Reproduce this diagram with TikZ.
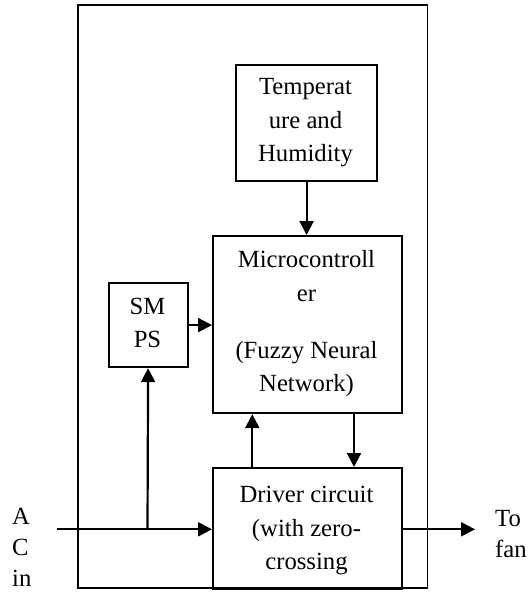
\documentclass[tikz,border=0pt]{standalone}
\usepackage{fontspec}
\setmainfont{Liberation Serif}
\usetikzlibrary{arrows.meta,calc}
\begin{document}
\begin{tikzpicture}[x=1pt,y=-1pt,
  box/.style={draw,line width=2.2pt,anchor=north west,inner sep=0pt},
  outer/.style={draw,line width=1.6pt},
  txt/.style={align=center,inner sep=0pt,anchor=base,font=\fontsize{24.7}{33.4}\selectfont},
  side/.style={align=left,inner sep=0pt,anchor=base west,font=\fontsize{24.7}{31}\selectfont},
  arr/.style={line width=2.2pt,-{Triangle[length=14pt,width=14pt]}},
  ln/.style={line width=2.2pt}]
\useasboundingbox (0,0) rectangle (532,592);
\draw[outer] (78,5) rectangle (427.5,588);
\node[box,minimum width=141pt,minimum height=116pt] (temp) at (235,64) {};
\node[box,minimum width=189pt,minimum height=177pt] (micro) at (212,235) {};
\node[box,minimum width=79pt,minimum height=84pt] (smps) at (107.5,282) {};
\node[box,minimum width=189pt,minimum height=121pt] (driver) at (212,467) {};
\node[txt] (ttemp) at (305.5,161.5) {Temperat\\ure and\\Humidity};
\node[txt] (tmicro1) at (306.5,301) {Microcontroll\\er};
\node[txt] (tmicro2) at (306.5,391.7) {(Fuzzy Neural\\Network)};
\node[txt] (tsmps) at (147.5,347.7) {SM\\PS};
\node[txt] (tdriver) at (306.5,569.5) {Driver circuit\\(with zero-\\crossing};
\node[side] (tac) at (12,586) {A\\C\\in};
\node[side] (tfan) at (495,557) {To\\fan};
\coordinate (acstart) at (57,529.3);
\coordinate (junc) at (147.5,529.3);
\coordinate (fanend) at (475,529.3);
\draw[arr] (temp.south) -- (temp.south |- micro.north);
\draw[arr] (smps.east) -- (smps.east -| micro.west);
\draw[arr] (acstart) -- (acstart -| driver.west);
\draw[arr] (junc) -- (smps.south);
\draw[arr] ($(driver.north west)+(40.3,0)$) -- ($(micro.south west)+(40.3,0)$);
\draw[arr] ($(micro.south west)+(142,0)$) -- ($(driver.north west)+(142,0)$);
\draw[arr] (driver.east |- fanend) -- (fanend);
\end{tikzpicture}
\end{document}
